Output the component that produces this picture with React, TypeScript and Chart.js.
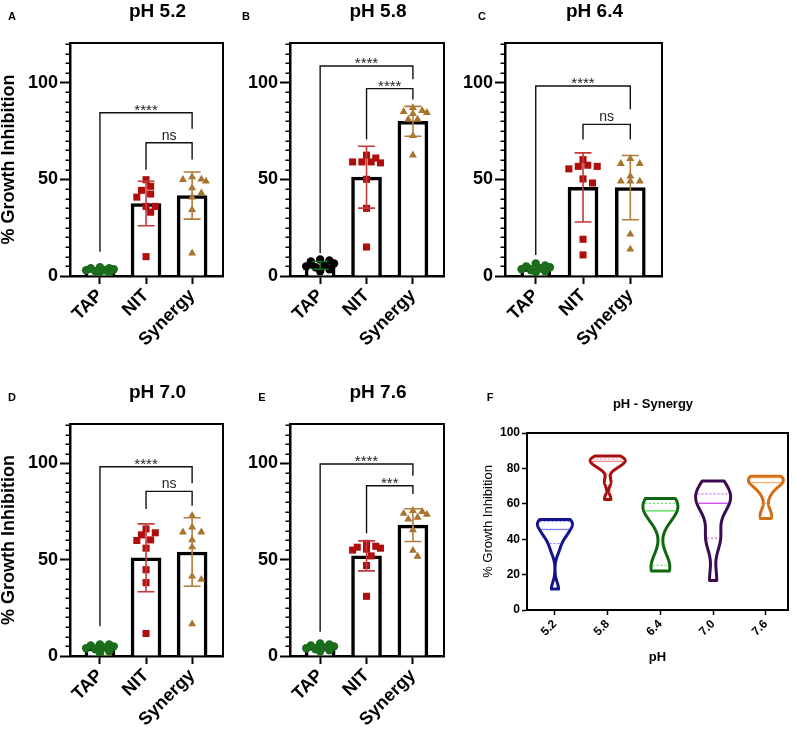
import React, { useEffect, useRef } from 'react';
import { Chart, registerables } from 'chart.js';

Chart.register(...registerables);

const FONT = '"Liberation Sans", Arial, Helvetica, sans-serif';
Chart.defaults.font.family = FONT;
Chart.defaults.color = '#000';

// ---------- shared categories / ticks ----------
const groups = ['TAP', 'NIT', 'Synergy'];
const yMajorTicks = [0, 50, 100];
const yMinorStep = 5;
const yMax = 120.5;

// ---------- Panel A : pH 5.2 ----------
const tapA = [4.5, 4, 4, 3.5, 3, 3, 2.5, 2, 1.5];
const nitA = [49.8, 46.4, 44.3, 42.4, 40.8, 36, 36, 33, 10];
const synA = [51.2, 50, 49.8, 49, 45.5, 42.9, 40.8, 34.3, 11.8];
const meanA = [3, 37.5, 41.6];
const sdA = [1, 11.5, 12.2];
const bracketsA = [
  { from: 0, to: 2, y: 84.4, leftEnd: 12.6, rightEnd: 76.1, label: '****' },
  { from: 1, to: 2, y: 68.9, leftEnd: 55, rightEnd: 60.2, label: 'ns' },
];

// ---------- Panel B : pH 5.8 ----------
const tapB = [8.5, 8, 7.5, 6.5, 5.5, 5, 4.5, 3.5, 2.5];
const nitB = [62.5, 61, 59, 59, 59, 58.5, 50, 35, 15];
const synB = [87, 85.5, 85, 84.5, 84, 81, 81, 72.5, 62.5];
const meanB = [5.5, 51.1, 80];
const sdB = [2, 16, 7.75];
const bracketsB = [
  { from: 0, to: 2, y: 108.6, leftEnd: 11.8, rightEnd: 101.7, label: '****' },
  { from: 1, to: 2, y: 96.9, leftEnd: 70.6, rightEnd: 91.3, label: '****' },
];

// ---------- Panel C : pH 6.4 ----------
const tapC = [6.5, 5.5, 5, 4.5, 4, 3.5, 3, 2.5, 2];
const nitC = [60.2, 57.3, 56.7, 56.7, 55.4, 50.2, 48.1, 19, 10.9];
const synC = [60.7, 58.1, 58.1, 51.6, 49, 49, 49, 21.6, 13.8];
const meanC = [3.8, 45.8, 45.7];
const sdC = [1.5, 17.9, 16.6];
const bracketsC = [
  { from: 0, to: 2, y: 98.3, leftEnd: 10.9, rightEnd: 86.2, label: '****' },
  { from: 1, to: 2, y: 78.4, leftEnd: 70.6, rightEnd: 70.6, label: 'ns' },
];

// ---------- Panel D : pH 7.0 ----------
const tapD = [6, 6, 5.5, 5, 4.5, 4, 3.5, 2.5, 1.5];
const nitD = [66, 64, 62.9, 60.3, 60, 56, 44.8, 38.1, 11.7];
const synD = [72.9, 66.9, 64.3, 64.3, 60.3, 56.6, 41.4, 39.7, 16.6];
const meanD = [4.2, 51, 54];
const sdD = [1.5, 17.6, 17.8];
const bracketsD = [
  { from: 0, to: 2, y: 98.3, leftEnd: 15.5, rightEnd: 89.7, label: '****' },
  { from: 1, to: 2, y: 85.5, leftEnd: 76.4, rightEnd: 78.1, label: 'ns' },
];

// ---------- Panel E : pH 7.6 ----------
const tapE = [6.5, 6, 5.5, 5, 4.5, 4, 3.5, 3, 2.5];
const nitE = [58.5, 57, 56.5, 56, 55.5, 55, 52, 47, 31];
const synE = [75.5, 75, 74, 73.5, 72, 71, 65.5, 54.8, 51.7];
const meanE = [4.5, 52, 68];
const sdE = [1.3, 7.8, 8.5];
const bracketsE = [
  { from: 0, to: 2, y: 99.7, leftEnd: 12.6, rightEnd: 93.6, label: '****' },
  { from: 1, to: 2, y: 88.4, leftEnd: 63.8, rightEnd: 84.1, label: '***' },
];

// ---------- Panel F : pH - Synergy (violins) ----------
const phLabels = ['5.2', '5.8', '6.4', '7.0', '7.6'];
const violin64 = [63, 61, 59.5, 58, 56, 52, 27, 23.5, 22];
const violinSeries = [synA, synB, violin64, synD, synE];
const violinColors = ['#14148c', '#a80f0f', '#0f680f', '#3b0b52', '#d46e14'];
const violinLineColors = ['#7b7bff', '#ff8a8a', '#4fd84f', '#cc44ee', '#ffae6a'];

// ---------- colours ----------
const GREEN = '#1b6d1b';
const NIT_COLOR = '#b00d0d';
const NIT_ERR = '#c43a3a';
const SYN_COLOR = '#a8732c';
const SYN_ERR = '#b07d3c';

type Rect = { left: number; top: number; width: number; height: number };
type PlotRect = { left: number; top: number; right: number; bottom: number };
type Bracket = { from: number; to: number; y: number; leftEnd: number; rightEnd: number; label: string };

const X_MIN = -0.65;
const X_MAX = 2.67;
const PX_PER_X = 46.5;
const PX_PER_Y = 1.93;

// simple beeswarm layout (GraphPad-like scatter-dot spreading)
function swarm(values: number[], center: number) {
  const d = 7;
  const step = 0.1;
  const maxOff = 0.32;
  const cands: number[] = [0];
  for (let k = 1; k * step <= maxOff + 1e-9; k++) cands.push(k * step, -k * step);
  const placed: { x: number; y: number }[] = [];
  const out: { x: number; y: number }[] = new Array(values.length);
  const order = values.map((_, i) => i).sort((a, b) => values[b] - values[a]);
  for (const i of order) {
    const v = values[i];
    let best = 0;
    let bestScore = -1;
    for (const off of cands) {
      let md = Infinity;
      for (const p of placed) md = Math.min(md, Math.hypot((p.x - off) * PX_PER_X, (p.y - v) * PX_PER_Y));
      if (md >= d) {
        best = off;
        break;
      }
      if (md > bestScore) {
        bestScore = md;
        best = off;
      }
    }
    placed.push({ x: best, y: v });
    out[i] = { x: center + best, y: v };
  }
  return out;
}

type BarPanelProps = {
  title: string;
  letter: string;
  letterPos: { x: number; y: number };
  tap: number[];
  nit: number[];
  syn: number[];
  means: number[];
  sds: number[];
  brackets: Bracket[];
  tapColor: string;
  showYTitle: boolean;
  canvas: Rect;
  plot: PlotRect;
};

function BarPanel(p: BarPanelProps) {
  const ref = useRef<HTMLCanvasElement>(null);
  useEffect(() => {
    if (!ref.current) return;
    const cv = p.canvas;
    const pl = p.plot;
    const yAxisW = pl.left - cv.left;
    const padTop = pl.top - cv.top;
    const padRight = cv.left + cv.width - pl.right;
    const xAxisH = 80;
    const padBottom = cv.top + cv.height - pl.bottom - xAxisH;
    const errColors = [GREEN, NIT_ERR, SYN_ERR];

    const decor = {
      id: 'decor',
      afterDatasetsDraw(chart: any) {
        const { ctx, scales } = chart;
        const x = scales.x;
        const y = scales.y;
        ctx.save();
        // error bars (mean ± SD)
        p.means.forEach((m: number, i: number) => {
          const cx = x.getPixelForValue(i);
          const t = y.getPixelForValue(m + p.sds[i]);
          const b = y.getPixelForValue(Math.max(0, m - p.sds[i]));
          ctx.strokeStyle = errColors[i];
          ctx.lineWidth = 1.6;
          ctx.beginPath();
          ctx.moveTo(cx, t);
          ctx.lineTo(cx, b);
          ctx.moveTo(cx - 8.5, t);
          ctx.lineTo(cx + 8.5, t);
          ctx.moveTo(cx - 8.5, b);
          ctx.lineTo(cx + 8.5, b);
          ctx.stroke();
        });
        // significance brackets
        p.brackets.forEach((br: Bracket) => {
          const x1 = x.getPixelForValue(br.from);
          const x2 = x.getPixelForValue(br.to);
          const yy = y.getPixelForValue(br.y);
          ctx.strokeStyle = '#111';
          ctx.lineWidth = 1.4;
          ctx.beginPath();
          ctx.moveTo(x1, y.getPixelForValue(br.leftEnd));
          ctx.lineTo(x1, yy);
          ctx.lineTo(x2, yy);
          ctx.lineTo(x2, y.getPixelForValue(br.rightEnd));
          ctx.stroke();
          ctx.fillStyle = '#222';
          ctx.textAlign = 'center';
          ctx.textBaseline = 'alphabetic';
          if (br.label.startsWith('*')) {
            ctx.font = `15px ${FONT}`;
            ctx.fillText(br.label, (x1 + x2) / 2, yy + 2);
          } else {
            ctx.font = `14px ${FONT}`;
            ctx.fillText(br.label, (x1 + x2) / 2, yy - 3);
          }
        });
        ctx.restore();
      },
      afterDraw(chart: any) {
        const { ctx, chartArea: a, scales } = chart;
        const y = scales.y;
        ctx.save();
        ctx.strokeStyle = '#000';
        // frame top & right
        ctx.lineWidth = 2;
        ctx.beginPath();
        ctx.moveTo(a.left, a.top);
        ctx.lineTo(a.right, a.top);
        ctx.lineTo(a.right, a.bottom);
        ctx.stroke();
        // minor ticks
        ctx.lineWidth = 1.5;
        ctx.beginPath();
        for (let v = yMinorStep; v <= 120; v += yMinorStep) {
          if (yMajorTicks.includes(v)) continue;
          const py = Math.round(y.getPixelForValue(v)) + 0.25;
          ctx.moveTo(a.left - 4.5, py);
          ctx.lineTo(a.left, py);
        }
        ctx.stroke();
        // panel title and letter
        ctx.fillStyle = '#000';
        ctx.textAlign = 'center';
        ctx.textBaseline = 'alphabetic';
        ctx.font = `bold 19px ${FONT}`;
        ctx.fillText(p.title, (a.left + a.right) / 2 + 11, a.top - 26);
        ctx.font = `bold 11px ${FONT}`;
        ctx.textBaseline = 'middle';
        ctx.fillText(p.letter, p.letterPos.x - cv.left, p.letterPos.y - cv.top);
        ctx.restore();
      },
    };

    const chart = new Chart(ref.current, {
      type: 'bar',
      data: {
        datasets: [
          {
            type: 'bar',
            data: p.means.map((m, i) => ({ x: i, y: m })),
            backgroundColor: '#ffffff',
            borderColor: '#000000',
            borderWidth: 3.5,
            barThickness: 30,
            order: 3,
          } as any,
          {
            type: 'scatter',
            data: swarm(p.tap, 0),
            pointStyle: 'circle',
            pointRadius: 4.2,
            backgroundColor: p.tapColor,
            borderWidth: 0,
            order: 1,
          },
          {
            type: 'scatter',
            data: swarm(p.nit, 1),
            pointStyle: 'rect',
            pointRadius: 5,
            backgroundColor: NIT_COLOR,
            borderWidth: 0,
            order: 1,
          },
          {
            type: 'scatter',
            data: swarm(p.syn, 2),
            pointStyle: 'triangle',
            pointRadius: 4.6,
            backgroundColor: SYN_COLOR,
            borderWidth: 0,
            order: 1,
          },
        ],
      },
      options: {
        animation: false,
        responsive: false,
        events: [],
        layout: { padding: { left: 0, top: padTop, right: padRight, bottom: padBottom } },
        plugins: { legend: { display: false }, tooltip: { enabled: false } },
        scales: {
          x: {
            type: 'linear',
            min: X_MIN,
            max: X_MAX,
            offset: false,
            afterBuildTicks: (axis: any) => {
              axis.ticks = groups.map((_, i) => ({ value: i }));
            },
            ticks: {
              callback: (v: any) => groups[v] ?? '',
              minRotation: 45,
              maxRotation: 45,
              autoSkip: false,
              font: { size: 18, weight: 'bold' },
              color: '#000',
              padding: 1,
            },
            grid: { drawOnChartArea: false, offset: false, tickLength: 8, tickWidth: 2, color: '#000' },
            border: { display: true, width: 2.5, color: '#000' },
            afterFit: (s: any) => {
              s.height = xAxisH;
            },
          } as any,
          y: {
            type: 'linear',
            min: 0,
            max: yMax,
            afterBuildTicks: (axis: any) => {
              axis.ticks = yMajorTicks.map((v) => ({ value: v }));
            },
            ticks: { font: { size: 18, weight: 'bold' }, color: '#000', padding: 2 },
            grid: { drawOnChartArea: false, tickLength: 10, tickWidth: 2, color: '#000' },
            border: { display: true, width: 2.5, color: '#000' },
            title: {
              display: p.showYTitle,
              text: '% Growth Inhibition',
              font: { size: 18, weight: 'bold', lineHeight: 1 },
              color: '#000',
              padding: { top: 0, bottom: 0 },
            },
            afterFit: (s: any) => {
              s.width = yAxisW;
            },
          } as any,
        },
      },
      plugins: [decor],
    } as any);
    return () => chart.destroy();
  }, []);
  const c = p.canvas;
  return (
    <canvas
      ref={ref}
      width={c.width}
      height={c.height}
      style={{ position: 'absolute', left: c.left, top: c.top, width: c.width, height: c.height }}
    />
  );
}

function quantile(sorted: number[], q: number) {
  const n = sorted.length;
  const pos = q * (n + 1) - 1;
  if (pos <= 0) return sorted[0];
  if (pos >= n - 1) return sorted[n - 1];
  const lo = Math.floor(pos);
  const f = pos - lo;
  return sorted[lo] + f * (sorted[lo + 1] - sorted[lo]);
}

function ViolinPanel() {
  const ref = useRef<HTMLCanvasElement>(null);
  const cv: Rect = { left: 470, top: 378, width: 325, height: 352 };
  const pl: PlotRect = { left: 527, top: 433, right: 788, bottom: 610 };
  useEffect(() => {
    if (!ref.current) return;
    const yAxisW = pl.left - cv.left;
    const padTop = pl.top - cv.top;
    const padRight = cv.left + cv.width - pl.right;
    const xAxisH = 58;
    const padBottom = cv.top + cv.height - pl.bottom - xAxisH;
    const halfMax = 17.5;

    const violinPlugin = {
      id: 'violins',
      afterDatasetsDraw(chart: any) {
        const { ctx, scales } = chart;
        const x = scales.x;
        const y = scales.y;
        ctx.save();
        violinSeries.forEach((vals, i) => {
          const s = [...vals].sort((a, b) => a - b);
          const n = s.length;
          const mean = s.reduce((a, b) => a + b, 0) / n;
          const sd = Math.sqrt(s.reduce((a, b) => a + (b - mean) ** 2, 0) / (n - 1));
          const q1 = quantile(s, 0.25);
          const q3 = quantile(s, 0.75);
          const med = quantile(s, 0.5);
          const h = 0.72 * 0.9 * Math.min(sd, (q3 - q1) / 1.34) * Math.pow(n, -0.2);
          const dens = (v: number) => s.reduce((acc, u) => acc + Math.exp(-0.5 * ((v - u) / h) ** 2), 0);
          const steps = 140;
          const lo = s[0];
          const hi = s[n - 1];
          const ys: number[] = [];
          const ds: number[] = [];
          for (let k = 0; k <= steps; k++) {
            const v = lo + ((hi - lo) * k) / steps;
            ys.push(v);
            ds.push(dens(v));
          }
          const dmax = Math.max(...ds);
          const w = (v: number) => (dens(v) / dmax) * halfMax;
          const cx = x.getPixelForValue(i);
          ctx.beginPath();
          for (let k = 0; k <= steps; k++) {
            const px = cx + (ds[k] / dmax) * halfMax;
            const py = y.getPixelForValue(ys[k]);
            if (k === 0) ctx.moveTo(px, py);
            else ctx.lineTo(px, py);
          }
          for (let k = steps; k >= 0; k--) {
            ctx.lineTo(cx - (ds[k] / dmax) * halfMax, y.getPixelForValue(ys[k]));
          }
          ctx.closePath();
          ctx.strokeStyle = violinColors[i];
          ctx.lineWidth = 3;
          ctx.lineJoin = 'round';
          ctx.stroke();
          // median
          ctx.strokeStyle = violinLineColors[i];
          ctx.lineWidth = 1.3;
          const wm = Math.max(0, w(med) - 1.5);
          const pm = y.getPixelForValue(med);
          ctx.beginPath();
          ctx.moveTo(cx - wm, pm);
          ctx.lineTo(cx + wm, pm);
          ctx.stroke();
          // quartiles
          ctx.setLineDash([2, 2]);
          ctx.lineWidth = 1;
          [q1, q3].forEach((q) => {
            const wq = Math.max(0, w(q) - 1.5);
            const pq = y.getPixelForValue(q);
            ctx.beginPath();
            ctx.moveTo(cx - wq, pq);
            ctx.lineTo(cx + wq, pq);
            ctx.stroke();
          });
          ctx.setLineDash([]);
        });
        ctx.restore();
      },
      afterDraw(chart: any) {
        const { ctx, chartArea: a } = chart;
        ctx.save();
        ctx.strokeStyle = '#000';
        ctx.lineWidth = 2;
        ctx.beginPath();
        ctx.moveTo(a.left, a.top);
        ctx.lineTo(a.right, a.top);
        ctx.lineTo(a.right, a.bottom);
        ctx.stroke();
        ctx.fillStyle = '#000';
        ctx.textAlign = 'center';
        ctx.textBaseline = 'alphabetic';
        ctx.font = `bold 13px ${FONT}`;
        ctx.fillText('pH - Synergy', 653 - cv.left, 408 - cv.top);
        ctx.font = `bold 11px ${FONT}`;
        ctx.textBaseline = 'middle';
        ctx.fillText('F', 490 - cv.left, 398 - cv.top);
        ctx.restore();
      },
    };

    const chart = new Chart(ref.current, {
      type: 'scatter',
      data: {
        datasets: violinSeries.map((vals, i) => ({
          data: vals.map((v) => ({ x: i, y: v })),
          pointRadius: 0,
          pointHoverRadius: 0,
        })),
      },
      options: {
        animation: false,
        responsive: false,
        events: [],
        layout: { padding: { left: 0, top: padTop, right: padRight, bottom: padBottom } },
        plugins: { legend: { display: false }, tooltip: { enabled: false } },
        scales: {
          x: {
            type: 'linear',
            min: -0.53,
            max: 4.42,
            afterBuildTicks: (axis: any) => {
              axis.ticks = phLabels.map((_, i) => ({ value: i }));
            },
            ticks: {
              callback: (v: any) => phLabels[v] ?? '',
              minRotation: 45,
              maxRotation: 45,
              autoSkip: false,
              font: { size: 12, weight: 'bold' },
              color: '#000',
              padding: 2,
            },
            grid: { drawOnChartArea: false, tickLength: 5, tickWidth: 1.5, color: '#000' },
            border: { display: true, width: 2, color: '#000' },
            title: {
              display: true,
              text: 'pH',
              font: { size: 13, weight: 'bold' },
              color: '#000',
              padding: { top: 2, bottom: 3 },
            },
            afterFit: (s: any) => {
              s.height = xAxisH;
            },
          } as any,
          y: {
            type: 'linear',
            min: 0,
            max: 100,
            ticks: { stepSize: 20, font: { size: 12, weight: 'bold' }, color: '#000', padding: 2 },
            grid: { drawOnChartArea: false, tickLength: 5, tickWidth: 1.5, color: '#000' },
            border: { display: true, width: 2, color: '#000' },
            title: {
              display: true,
              text: '% Growth Inhibition',
              font: { size: 13 },
              color: '#000',
              padding: { top: 11, bottom: 0 },
            },
            afterFit: (s: any) => {
              s.width = yAxisW;
            },
          } as any,
        },
      },
      plugins: [violinPlugin],
    } as any);
    return () => chart.destroy();
  }, []);
  return (
    <canvas
      ref={ref}
      width={cv.width}
      height={cv.height}
      style={{ position: 'absolute', left: cv.left, top: cv.top, width: cv.width, height: cv.height }}
    />
  );
}

export default function App() {
  return (
    <div
      style={{
        position: 'absolute',
        left: 0,
        top: 0,
        width: 795,
        height: 730,
        background: '#fff',
        overflow: 'hidden',
        fontFamily: FONT,
      }}
    >
      <BarPanel
        title="pH 5.2"
        letter="A"
        letterPos={{ x: 12, y: 17 }}
        tap={tapA}
        nit={nitA}
        syn={synA}
        means={meanA}
        sds={sdA}
        brackets={bracketsA}
        tapColor={GREEN}
        showYTitle={true}
        canvas={{ left: 0, top: 0, width: 238, height: 372 }}
        plot={{ left: 70, top: 43, right: 223, bottom: 276 }}
      />
      <BarPanel
        title="pH 5.8"
        letter="B"
        letterPos={{ x: 246, y: 17 }}
        tap={tapB}
        nit={nitB}
        syn={synB}
        means={meanB}
        sds={sdB}
        brackets={bracketsB}
        tapColor="#000000"
        showYTitle={false}
        canvas={{ left: 238, top: 0, width: 222, height: 372 }}
        plot={{ left: 290, top: 43, right: 444, bottom: 276 }}
      />
      <BarPanel
        title="pH 6.4"
        letter="C"
        letterPos={{ x: 482, y: 17 }}
        tap={tapC}
        nit={nitC}
        syn={synC}
        means={meanC}
        sds={sdC}
        brackets={bracketsC}
        tapColor={GREEN}
        showYTitle={false}
        canvas={{ left: 460, top: 0, width: 335, height: 372 }}
        plot={{ left: 505, top: 43, right: 662, bottom: 276 }}
      />
      <BarPanel
        title="pH 7.0"
        letter="D"
        letterPos={{ x: 12, y: 398 }}
        tap={tapD}
        nit={nitD}
        syn={synD}
        means={meanD}
        sds={sdD}
        brackets={bracketsD}
        tapColor={GREEN}
        showYTitle={true}
        canvas={{ left: 0, top: 378, width: 238, height: 352 }}
        plot={{ left: 70, top: 424, right: 223, bottom: 656 }}
      />
      <BarPanel
        title="pH 7.6"
        letter="E"
        letterPos={{ x: 262, y: 398 }}
        tap={tapE}
        nit={nitE}
        syn={synE}
        means={meanE}
        sds={sdE}
        brackets={bracketsE}
        tapColor={GREEN}
        showYTitle={false}
        canvas={{ left: 238, top: 378, width: 222, height: 352 }}
        plot={{ left: 290, top: 424, right: 444, bottom: 656 }}
      />
      <ViolinPanel />
    </div>
  );
}
